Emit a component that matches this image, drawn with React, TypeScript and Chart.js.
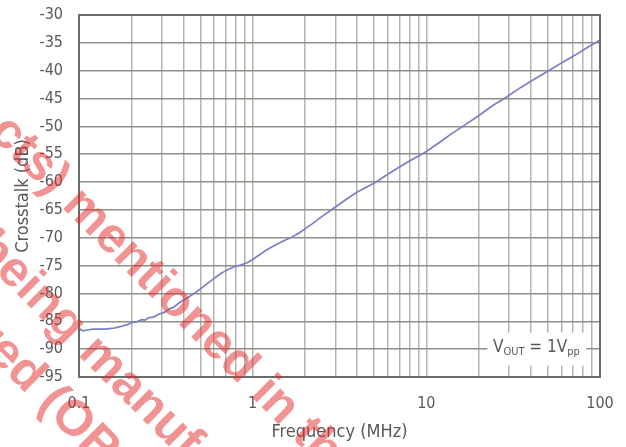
import { useEffect, useRef } from 'react';
import { Chart, registerables } from 'chart.js';

Chart.register(...registerables);

// ---- data ----
const frequencyMHz = [
  0.1, 0.105, 0.11, 0.12, 0.13, 0.14, 0.15, 0.16, 0.17, 0.18, 0.19, 0.2,
  0.215, 0.23, 0.24, 0.25, 0.27, 0.29, 0.31, 0.33, 0.35, 0.37, 0.39, 0.42,
  0.45, 0.5, 0.55, 0.6, 0.65, 0.7, 0.77, 0.85, 0.93, 1.0, 1.1, 1.2, 1.35,
  1.5, 1.7, 1.86, 2.0, 2.2, 2.5, 2.9, 3.5, 4.0, 5.14, 6.0, 7.0, 8.0, 9.5,
  10, 12, 14, 16.2, 20, 24, 28.7, 35, 42, 50, 60, 72, 85, 100,
];
const crosstalkDb = [
  -86.3, -86.7, -86.6, -86.4, -86.4, -86.4, -86.3, -86.2, -86.0, -85.8, -85.6, -85.2,
  -85.1, -84.7, -84.8, -84.4, -84.2, -83.7, -83.4, -82.8, -82.5, -81.9, -81.4, -80.8,
  -80.2, -79.2, -78.2, -77.3, -76.5, -75.9, -75.3, -74.9, -74.5, -73.9, -73.0, -72.2, -71.3,
  -70.6, -69.8, -69.1, -68.4, -67.5, -66.2, -64.8, -63.0, -61.8, -60.0, -58.6, -57.3, -56.2, -54.9,
  -54.5, -52.8, -51.3, -50.0, -48.1, -46.3, -44.8, -43.0, -41.5, -40.1, -38.6, -37.2, -35.8, -34.5,
];
const xDecades = [0.1, 1, 10, 100];
const xTickLabels = ['0.1', '1', '10', '100'];
const xMinorMultipliers = [1, 2, 3, 4, 5, 6, 7, 8, 9];
const yTickValues = [-95, -90, -85, -80, -75, -70, -65, -60, -55, -50, -45, -40, -35, -30];
const xTitle = 'Frequency (MHz)';
const yTitle = 'Crosstalk (dB)';
const noteFreq = 43;
const noteDb = -90;
const noteParts = [
  { text: 'V', sub: false },
  { text: 'OUT', sub: true },
  { text: ' = 1V', sub: false },
  { text: 'pp', sub: true },
];
const watermarkLines = [
  { text: 'cts) mentioned in this', anchor: 'mentioned' },
  { text: 'being manufactured', anchor: 'manufactured' },
  { text: 'red (OBSOLETE)', anchor: '(' },
];

// ---- styling / layout ----
const FONT = '"DejaVu Sans Condensed", "DejaVu Sans", sans-serif';
const TEXT_COLOR = '#595959';
const WM = { angleDeg: 45, size: 50, along: [189, 305, 312], normal: [103, 196, 260] };

const xGridValues: number[] = [];
xDecades.slice(0, -1).forEach((d) => xMinorMultipliers.forEach((m) => xGridValues.push(d * m)));
xGridValues.push(xDecades[xDecades.length - 1]);

const overlayPlugin = {
  id: 'overlay',
  afterDraw(chart: any) {
    const { ctx, chartArea: a, scales } = chart;
    ctx.save();
    // plot border
    ctx.strokeStyle = '#6b6b6b';
    ctx.lineWidth = 2;
    ctx.strokeRect(a.left, a.top, a.right - a.left, a.bottom - a.top);

    // annotation box
    const px = scales.x.getPixelForValue(noteFreq);
    const py = scales.y.getPixelForValue(noteDb);
    ctx.fillStyle = '#ffffff';
    ctx.fillRect(px - 49, py - 16.5, 99, 33);
    const big = `17px ${FONT}`;
    const small = `11px ${FONT}`;
    let total = 0;
    noteParts.forEach((p) => {
      ctx.font = p.sub ? small : big;
      total += ctx.measureText(p.text).width;
    });
    let cx = px - total / 2;
    ctx.fillStyle = TEXT_COLOR;
    ctx.textBaseline = 'alphabetic';
    ctx.textAlign = 'left';
    noteParts.forEach((p) => {
      ctx.font = p.sub ? small : big;
      ctx.fillText(p.text, cx, py + (p.sub ? 6 : 3));
      cx += ctx.measureText(p.text).width;
    });

    // watermark
    ctx.beginPath();
    ctx.rect(0, 0, chart.width, chart.height);
    ctx.clip();
    ctx.rotate((WM.angleDeg * Math.PI) / 180);
    ctx.font = `bold ${WM.size}px "Liberation Sans", Arial, sans-serif`;
    ctx.fillStyle = 'rgba(228, 40, 40, 0.5)';
    watermarkLines.forEach((line, i) => {
      const idx = line.text.indexOf(line.anchor);
      const prefixW = ctx.measureText(line.text.slice(0, idx)).width;
      const u = WM.along[i] - prefixW;
      ctx.fillText(line.text, u, WM.normal[i]);
    });
    ctx.restore();
  },
};

export default function App() {
  const ref = useRef<HTMLCanvasElement | null>(null);
  useEffect(() => {
    document.body.style.margin = '0';
    if (!ref.current) return;
    const chart = new Chart(ref.current, {
      type: 'line',
      data: {
        datasets: [
          {
            data: frequencyMHz.map((f, i) => ({ x: f, y: crosstalkDb[i] })),
            borderColor: '#7a7fc5',
            borderWidth: 1.7,
            pointRadius: 0,
            tension: 0,
            fill: false,
          },
        ],
      },
      options: {
        responsive: false,
        animation: false,
        layout: { padding: { left: 0, right: 26, top: 15, bottom: 0 } },
        plugins: { legend: { display: false }, tooltip: { enabled: false } },
        scales: {
          x: {
            type: 'logarithmic',
            min: 0.1,
            max: 100,
            afterBuildTicks: (scale: any) => {
              scale.ticks = xGridValues.map((v) => ({ value: v }));
            },
            afterFit: (scale: any) => {
              scale.height = 70;
              scale.paddingLeft = 0;
              scale.paddingRight = 0;
              scale.paddingTop = 0;
              scale.paddingBottom = 0;
            },
            ticks: {
              autoSkip: false,
              maxRotation: 0,
              minRotation: 0,
              padding: 17,
              color: TEXT_COLOR,
              font: { family: FONT, size: 16 },
              callback: (value: any) => {
                const i = xDecades.findIndex((d) => Math.abs(d - Number(value)) < d * 1e-6);
                return i >= 0 ? xTickLabels[i] : '';
              },
            },
            grid: { color: '#b3b3ab', lineWidth: 1.5, drawTicks: false },
            border: { display: false },
            title: {
              display: true,
              text: xTitle,
              color: TEXT_COLOR,
              font: { family: FONT, size: 18 },
              padding: { top: 0, bottom: 4 },
            },
          },
          y: {
            min: -95,
            max: -30,
            afterBuildTicks: (scale: any) => {
              scale.ticks = yTickValues.map((v) => ({ value: v }));
            },
            afterFit: (scale: any) => {
              scale.width = 79;
              scale.paddingLeft = 0;
              scale.paddingRight = 0;
              scale.paddingTop = 0;
              scale.paddingBottom = 0;
            },
            ticks: {
              padding: 16,
              color: TEXT_COLOR,
              font: { family: FONT, size: 16 },
              callback: (value: any) => String(value),
            },
            grid: { color: '#8f8f8a', lineWidth: 1.5, drawTicks: false },
            border: { display: false },
            title: {
              display: true,
              text: yTitle,
              color: TEXT_COLOR,
              font: { family: FONT, size: 18 },
              padding: { top: 13, bottom: 0 },
            },
          },
        },
      },
      plugins: [overlayPlugin],
    });
    return () => chart.destroy();
  }, []);
  return (
    <div style={{ width: 626, height: 447 }}>
      <canvas ref={ref} width={626} height={447} />
    </div>
  );
}
